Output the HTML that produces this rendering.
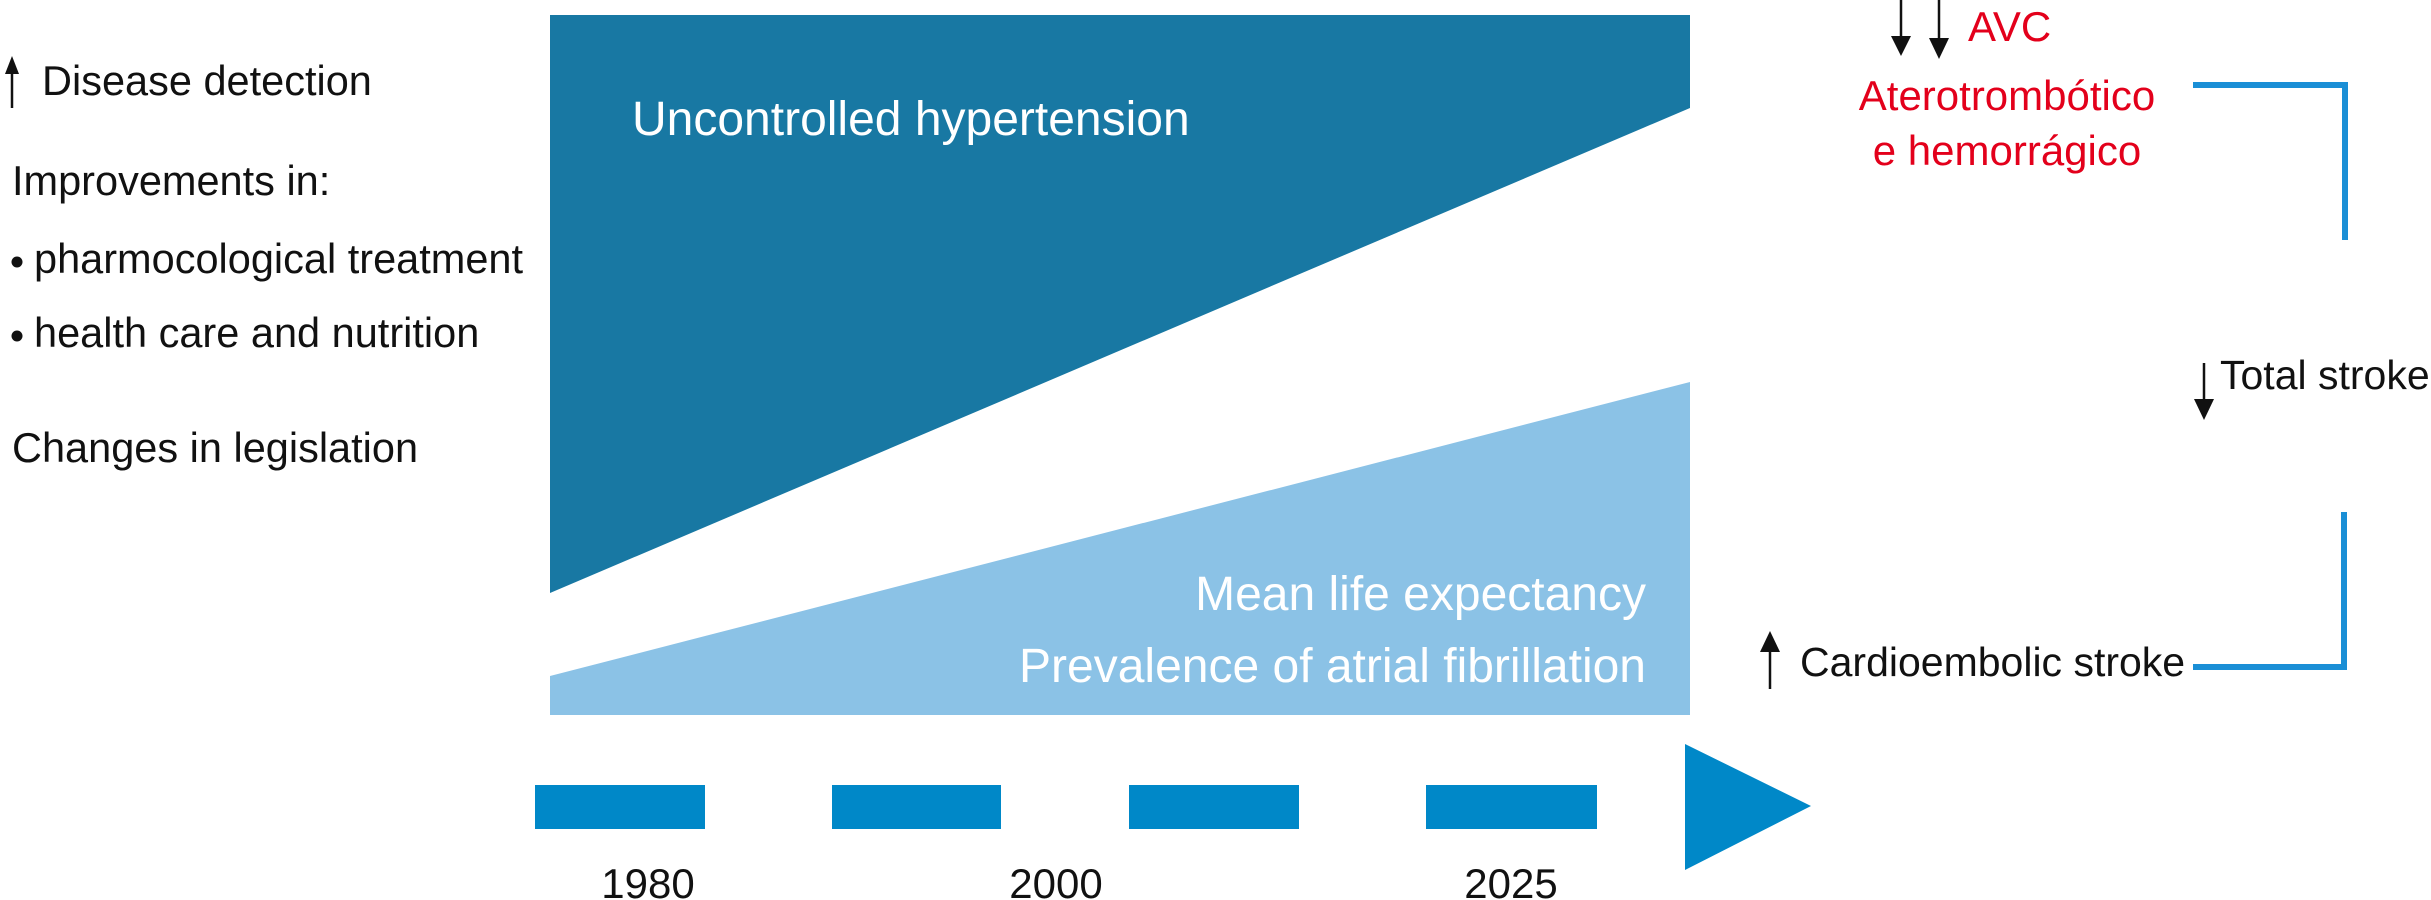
<!DOCTYPE html>
<html><head><meta charset="utf-8"><style>
html,body{margin:0;padding:0;background:#fff}
svg{display:block}
text{font-family:"Liberation Sans",Arial,sans-serif}
</style></head><body>
<svg width="2431" height="900" viewBox="0 0 2431 900">
<g fill="#111" font-size="41.5">
<line x1="12" y1="108" x2="12" y2="70" stroke="#111" stroke-width="2.5"/>
<path d="M5,74 L12,56 L19,74 z" fill="#111"/>
<text x="42" y="95">Disease detection</text>
<text x="12" y="195">Improvements in:</text>
<circle cx="17" cy="262" r="5.5"/>
<text x="34" y="273">pharmocological treatment</text>
<circle cx="17" cy="336" r="5.5"/>
<text x="34" y="347">health care and nutrition</text>
<text x="12" y="462">Changes in legislation</text>
</g>
<polygon points="550,15 1690,15 1690,108 550,593" fill="#1878a3"/>
<text x="632" y="135" fill="#fff" font-size="48">Uncontrolled hypertension</text>
<polygon points="550,676 1690,382 1690,715 550,715" fill="#8bc2e6"/>
<text x="1646" y="610" fill="#fff" font-size="48" text-anchor="end">Mean life expectancy</text>
<text x="1646" y="682" fill="#fff" font-size="48" text-anchor="end">Prevalence of atrial fibrillation</text>
<g fill="#0088c8">
<rect x="535" y="785" width="170" height="44"/>
<rect x="832" y="785" width="169" height="44"/>
<rect x="1129" y="785" width="170" height="44"/>
<rect x="1426" y="785" width="171" height="44"/>
<polygon points="1685,744 1811,806 1685,870"/>
</g>
<g fill="#111" font-size="42" text-anchor="middle">
<text x="648" y="898">1980</text>
<text x="1056" y="898">2000</text>
<text x="1511" y="898">2025</text>
</g>
<g>
<line x1="1901" y1="0" x2="1901" y2="40" stroke="#111" stroke-width="2.5"/>
<path d="M1891,36 L1901,56 L1911,36 z" fill="#111"/>
<line x1="1939" y1="0" x2="1939" y2="42" stroke="#111" stroke-width="2.5"/>
<path d="M1929,38 L1939,59 L1949,38 z" fill="#111"/>
<text x="1968" y="41" fill="#e3001b" font-size="42">AVC</text>
<text x="2007" y="110" fill="#e3001b" font-size="42" text-anchor="middle">Aterotrombótico</text>
<text x="2007" y="165" fill="#e3001b" font-size="42" text-anchor="middle">e hemorrágico</text>
<path d="M2193,85 L2345,85 L2345,240" fill="none" stroke="#1a8fd6" stroke-width="6"/>
<line x1="2204" y1="363" x2="2204" y2="402" stroke="#111" stroke-width="2.5"/>
<path d="M2194,399 L2204,420 L2214,399 z" fill="#111"/>
<text x="2220" y="389" fill="#111" font-size="41">Total stroke</text>
<path d="M2344,512 L2344,667 L2193,667" fill="none" stroke="#1a8fd6" stroke-width="6"/>
<line x1="1770" y1="689" x2="1770" y2="648" stroke="#111" stroke-width="2.5"/>
<path d="M1760,652 L1770,631 L1780,652 z" fill="#111"/>
<text x="1800" y="676" fill="#111" font-size="41">Cardioembolic stroke</text>
</g>
</svg>
</body></html>
